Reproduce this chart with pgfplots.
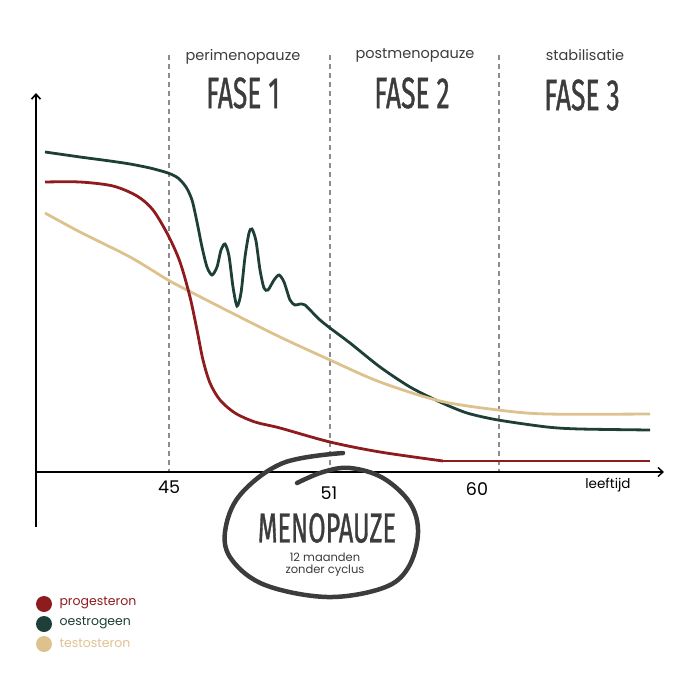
\documentclass[border=0pt]{standalone}
\usepackage{pgfplots}
\pgfplotsset{compat=1.18}
\usepackage{fontspec}
\setmainfont{Poppins}
\newfontfamily\cond[FakeStretch=0.6, FakeBold=0.8]{Fira Sans}
\usetikzlibrary{arrows.meta}

\definecolor{proges}{HTML}{8E1B1E}
\definecolor{oestro}{HTML}{1E3F37}
\definecolor{testo}{HTML}{DEC28E}
\definecolor{dashgrey}{HTML}{8C8C8C}
\definecolor{ink}{HTML}{3C3C3C}

\begin{document}
\begin{tikzpicture}
\begin{axis}[
    at={(0,0)}, anchor=south west,
    scale only axis,
    width=700pt, height=700pt,
    xmin=0, xmax=700, ymin=0, ymax=700,
    y dir=reverse,
    hide axis,
    clip=false,
]
\path (axis cs:0,0) (axis cs:700,700);

% phase boundaries
\foreach \xx in {169,330,499}{
  \edef\tmp{\noexpand\draw[dashgrey, line width=1.3pt, dash pattern=on 5pt off 4pt] (axis cs:\xx,55) -- (axis cs:\xx,472);}
  \tmp
}

% axes
\draw[black, line width=1.6pt, -{Straight Barb[length=5pt,width=9pt]}] (axis cs:36,527) -- (axis cs:36,93);
\draw[black, line width=1.4pt, -{Straight Barb[length=5pt,width=9pt]}] (axis cs:36,472) -- (axis cs:664,472);

% oestrogen
\addplot[oestro, line width=2.8pt, smooth, tension=0.45] coordinates {
 (45,152) (80,157) (110,161) (130,164) (150,168) (168,173) (178,178) (186,187)
 (192,200) (197,222) (202,247) (207,267) (212,275) (217,267) (221,250) (225,244)
 (229,256) (233,287) (237,306) (241,293) (245,257) (249,233) (252,229) (256,241)
 (260,270) (264,288) (268,290) (274,280) (279,275) (284,282) (290,300) (295,305)
 (300,304) (305,305) (312,312) (320,320) (330,328) (350,343) (380,367) (410,387)
 (440,402) (467,413) (498,420) (547,427) (580,429) (650,430)
};
% testosteron
\addplot[testo, line width=2.8pt, smooth] coordinates {
 (45,213) (80,232) (130,257) (168,280) (187,290) (230,312) (280,337) (330,360)
 (380,382) (440,401) (498,410) (547,414) (650,414)
};
% progesteron
\addplot[proges, line width=2.8pt, smooth, tension=0.5] coordinates {
 (45,182) (80,182) (113,186) (137,196) (153,210) (168,235) (180,262) (190,297)
 (197,330) (203,360) (210,383) (220,400) (235,413) (255,422) (280,428) (330,442)
 (380,452) (443,461)
};
\addplot[proges, line width=2.8pt] coordinates {(443,461) (650,461)};

% phase titles
\node[ink, font=\fontsize{14.5}{16}\selectfont] at (axis cs:243,57) {perimenopauze};
\node[ink, font=\fontsize{14.5}{16}\selectfont] at (axis cs:415,55) {postmenopauze};
\node[ink, font=\fontsize{14.5}{16}\selectfont] at (axis cs:585,55) {stabilisatie};
\node[ink, font=\cond\fontsize{44}{46}\selectfont] at (axis cs:243,93) {FASE 1};
\node[ink, font=\cond\fontsize{44}{46}\selectfont] at (axis cs:412,93) {FASE 2};
\node[ink, font=\cond\fontsize{44}{46}\selectfont] at (axis cs:582,95) {FASE 3};

% tick labels
\node[black, font=\fontsize{17.5}{19}\selectfont] at (axis cs:169,487) {45};
\node[black, font=\fontsize{17.5}{19}\selectfont] at (axis cs:329,493) {51};
\node[black, font=\fontsize{17.5}{19}\selectfont] at (axis cs:477,489) {60};
\node[black, font=\fontsize{13.5}{15}\selectfont] at (axis cs:608,485) {leeftijd};

% menopauze ring
\draw[ink, line width=4.5pt, line cap=round, smooth, tension=0.6] plot coordinates {
 (axis cs:297,483) (axis cs:323,472) (axis cs:350,468) (axis cs:383,478)
 (axis cs:410,503) (axis cs:418,533) (axis cs:408,568) (axis cs:383,588)
 (axis cs:327,597) (axis cs:265,585) (axis cs:232,560) (axis cs:225,532)
 (axis cs:240,495) (axis cs:283,463) (axis cs:343,453)
};
\node[ink, font=\cond\fontsize{42}{44}\selectfont] at (axis cs:327,528) {MENOPAUZE};
\node[ink, font=\fontsize{11.5}{13}\selectfont, align=center] at (axis cs:325,565) {12 maanden\\[-1pt]zonder cyclus};

% legend
\fill[proges] (axis cs:44,604) circle[radius=8pt];
\fill[oestro] (axis cs:44,624) circle[radius=8pt];
\fill[testo] (axis cs:44,644) circle[radius=8pt];
\node[proges, anchor=west, font=\fontsize{12.5}{14}\selectfont] at (axis cs:56,603) {progesteron};
\node[oestro, anchor=west, font=\fontsize{12.5}{14}\selectfont] at (axis cs:56,623) {oestrogeen};
\node[testo, anchor=west, font=\fontsize{12.5}{14}\selectfont] at (axis cs:56,643) {testosteron};
\end{axis}
\end{tikzpicture}
\end{document}
